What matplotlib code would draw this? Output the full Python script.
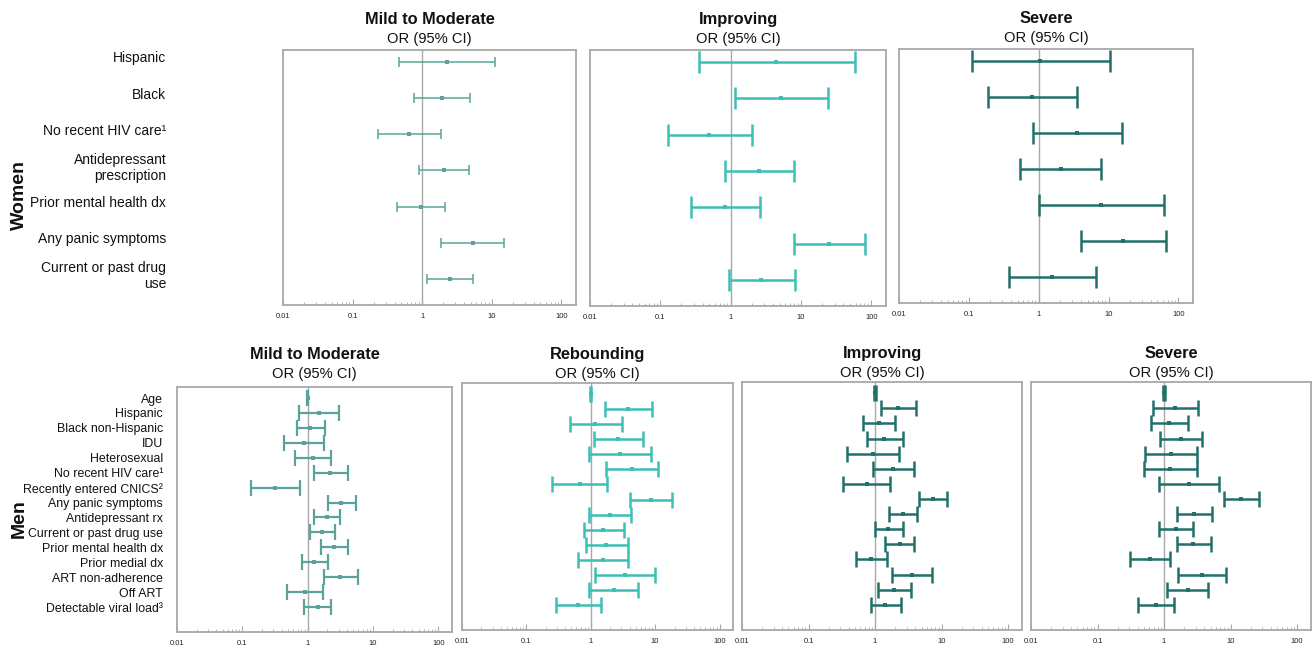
import numpy as np
import matplotlib
matplotlib.use('Agg')
import matplotlib.pyplot as plt
import matplotlib.transforms as mtransforms
from matplotlib.ticker import FixedLocator, LogLocator, NullFormatter, FixedFormatter

plt.rcParams['font.family'] = ['Liberation Sans', 'DejaVu Sans']

# ---------------- data ----------------
women_labels = ['Hispanic', 'Black', 'No recent HIV care\u00b9',
                'Antidepressant\nprescription', 'Prior mental health dx',
                'Any panic symptoms', 'Current or past drug\nuse']

women_mild_or = [2.27, 1.93, 0.64, 2.05, 0.95, 5.28, 2.50]
women_mild_lo = [0.46, 0.77, 0.23, 0.89, 0.44, 1.88, 1.17]
women_mild_hi = [11.0, 4.9, 1.86, 4.66, 2.16, 15.0, 5.4]

women_impr_or = [4.48, 5.2, 0.50, 2.5, 0.83, 25.2, 2.7]
women_impr_lo = [0.35, 1.15, 0.129, 0.82, 0.277, 8.0, 0.94]
women_impr_hi = [58.5, 24.1, 2.02, 7.9, 2.58, 80.7, 8.1]

women_sev_or = [1.03, 0.79, 3.59, 2.06, 7.9, 16.0, 1.56]
women_sev_lo = [0.11, 0.19, 0.82, 0.54, 1.0, 4.0, 0.37]
women_sev_hi = [10.4, 3.53, 15.7, 7.9, 63.0, 66.0, 6.65]

men_labels = ['Age', 'Hispanic', 'Black non-Hispanic', 'IDU', 'Heterosexual',
              'No recent HIV care\u00b9', 'Recently entered CNICS\u00b2',
              'Any panic symptoms', 'Antidepressant rx', 'Current or past drug use',
              'Prior mental health dx', 'Prior medial dx', 'ART non-adherence',
              'Off ART', 'Detectable viral load\u00b3']

men_mild_or = [1.0, 1.47, 1.10, 0.87, 1.19, 2.22, 0.32, 3.27, 1.98, 1.68, 2.5, 1.26, 3.16, 0.92, 1.42]
men_mild_lo = [0.98, 0.745, 0.69, 0.44, 0.64, 1.24, 0.136, 2.02, 1.24, 1.07, 1.6, 0.82, 1.76, 0.49, 0.89]
men_mild_hi = [1.02, 2.98, 1.82, 1.76, 2.28, 4.1, 0.755, 5.5, 3.16, 2.65, 4.1, 2.02, 6.0, 1.72, 2.28]

men_reb_or = [1.0, 3.82, 1.17, 2.67, 2.86, 4.35, 0.67, 8.6, 1.98, 1.57, 1.75, 1.54, 3.39, 2.26, 0.64]
men_reb_lo = [0.98, 1.67, 0.47, 1.13, 0.94, 1.71, 0.247, 4.1, 0.94, 0.79, 0.84, 0.64, 1.17, 0.94, 0.29]
men_reb_hi = [1.02, 8.8, 3.04, 6.4, 8.7, 10.9, 1.78, 18.3, 4.2, 3.23, 3.73, 3.73, 10.0, 5.5, 1.45]

men_impr_or = [1.0, 2.23, 1.14, 1.38, 0.94, 1.89, 0.75, 7.5, 2.6, 1.56, 2.35, 0.88, 3.58, 1.94, 1.43]
men_impr_lo = [0.98, 1.24, 0.665, 0.755, 0.38, 0.94, 0.33, 4.6, 1.62, 1.01, 1.41, 0.515, 1.82, 1.09, 0.88]
men_impr_hi = [1.02, 4.2, 1.97, 2.6, 2.29, 3.9, 1.67, 12.0, 4.3, 2.6, 3.9, 1.52, 7.2, 3.49, 2.44]

men_sev_or = [1.0, 1.47, 1.19, 1.77, 1.27, 1.24, 2.35, 14.5, 2.84, 1.5, 2.74, 0.62, 3.67, 2.26, 0.77]
men_sev_lo = [0.98, 0.68, 0.63, 0.88, 0.51, 0.50, 0.83, 8.1, 1.56, 0.85, 1.54, 0.31, 1.64, 1.09, 0.41]
men_sev_hi = [1.02, 3.23, 2.26, 3.67, 3.15, 3.1, 6.7, 26.4, 5.2, 2.74, 5.0, 1.23, 8.4, 4.6, 1.43]

tick_values = [0.01, 0.1, 1, 10, 100]
tick_labels = ['0.01', '0.1', '1', '10', '100']

# ---------------- style ----------------
C_MILD = '#5aa39b'
C_BRIGHT = '#3dbfb5'
C_DARK = '#22706a'
GRID_GRAY = '#a8a8a8'

W, H = 1313, 649
fig = plt.figure(figsize=(W / 100, H / 100), dpi=100)


def px_axes(x0, y0, x1, y1):
    return fig.add_axes([x0 / W, 1 - y1 / H, (x1 - x0) / W, (y1 - y0) / H])


def panel(ax, orv, lo, hi, color, lw, cap, title, labels, ylim, label_pad,
          label_size, title_gap=7, label_shift=0):
    n = len(orv)
    y = np.arange(n)
    orv = np.asarray(orv)
    err = np.vstack([orv - np.asarray(lo), np.asarray(hi) - orv])
    ax.axvline(1, color=GRID_GRAY, lw=1.0, zorder=1)
    ax.errorbar(orv, y, xerr=err, fmt='none', ecolor=color,
                elinewidth=lw, capsize=cap, capthick=lw, zorder=3)
    ax.plot(orv, y, 's', color=color, markersize=2.4, markeredgewidth=0,
            zorder=4)
    ax.set_xscale('log')
    ax.set_xlim(0.01, 162)
    ax.set_ylim(*ylim)
    ax.xaxis.set_major_locator(FixedLocator(tick_values))
    ax.xaxis.set_major_formatter(FixedFormatter(tick_labels))
    ax.xaxis.set_minor_locator(LogLocator(base=10, subs=np.arange(2, 10)))
    ax.xaxis.set_minor_formatter(NullFormatter())
    ax.tick_params(axis='x', which='major', direction='in', length=4,
                   width=0.8, color=GRID_GRAY, labelsize=5.5, pad=6,
                   labelcolor='#222222')
    ax.tick_params(axis='x', which='minor', direction='in', length=2,
                   width=0.6, color=GRID_GRAY)
    if labels is not None:
        ax.set_yticks(y)
        ax.set_yticklabels(labels, fontsize=label_size, ha='right',
                           linespacing=1.15)
        ax.tick_params(axis='y', length=0, pad=label_pad, labelcolor='#111111')
        if label_shift:
            shift = mtransforms.ScaledTranslation(0, label_shift / 100,
                                                  fig.dpi_scale_trans)
            for lab in ax.get_yticklabels():
                lab.set_transform(lab.get_transform() + shift)
    else:
        ax.set_yticks([])
    for s in ax.spines.values():
        s.set_color(GRID_GRAY)
        s.set_linewidth(1.3)
    ax.annotate('OR (95% CI)', xy=(0.5, 1), xycoords='axes fraction',
                xytext=(0, title_gap), textcoords='offset pixels',
                ha='center', va='baseline', fontsize=10.6, color='#111111')
    ax.annotate(title, xy=(0.5, 1), xycoords='axes fraction',
                xytext=(0, title_gap + 19), textcoords='offset pixels',
                ha='center', va='baseline', fontsize=11.8,
                fontweight='bold', color='#111111')


# top row (Women)
wy = (len(women_labels) - 1 + 0.72, -0.33)
ax1 = px_axes(283, 50, 576, 305)
panel(ax1, women_mild_or, women_mild_lo, women_mild_hi, C_MILD, 1.1, 3.6,
      'Mild to Moderate', women_labels, wy, 84, 10, label_shift=5)
ax2 = px_axes(590, 50, 886, 306)
panel(ax2, women_impr_or, women_impr_lo, women_impr_hi, C_BRIGHT, 1.8, 7.9,
      'Improving', None, wy, 0, 10)
ax3 = px_axes(899, 49, 1193, 303)
panel(ax3, women_sev_or, women_sev_lo, women_sev_hi, C_DARK, 1.8, 7.9,
      'Severe', None, wy, 0, 10)

# bottom row (Men)
my = (len(men_labels) - 1 + 1.67, -0.74)
ax4 = px_axes(177, 387, 452, 632)
panel(ax4, men_mild_or, men_mild_lo, men_mild_hi, C_MILD, 1.6, 5.8,
      'Mild to Moderate', men_labels, my, 10, 8.9, title_gap=9)
ax5 = px_axes(462, 383, 733, 630)
panel(ax5, men_reb_or, men_reb_lo, men_reb_hi, C_BRIGHT, 1.8, 5.8,
      'Rebounding', None, my, 0, 9, title_gap=5)
ax6 = px_axes(742, 382, 1022, 630)
panel(ax6, men_impr_or, men_impr_lo, men_impr_hi, C_DARK, 1.8, 5.8,
      'Improving', None, my, 0, 9, title_gap=5)
ax7 = px_axes(1031, 382, 1311, 630)
panel(ax7, men_sev_or, men_sev_lo, men_sev_hi, C_DARK, 1.8, 5.8,
      'Severe', None, my, 0, 9, title_gap=5)

fig.text(19 / W, 1 - 195 / H, 'Women', rotation=90, ha='center', va='center',
         fontsize=14, fontweight='bold', color='#111111')
fig.text(19 / W, 1 - 519 / H, 'Men', rotation=90, ha='center', va='center',
         fontsize=14, fontweight='bold', color='#111111')

fig.savefig('out.png', dpi=100, facecolor='white')
